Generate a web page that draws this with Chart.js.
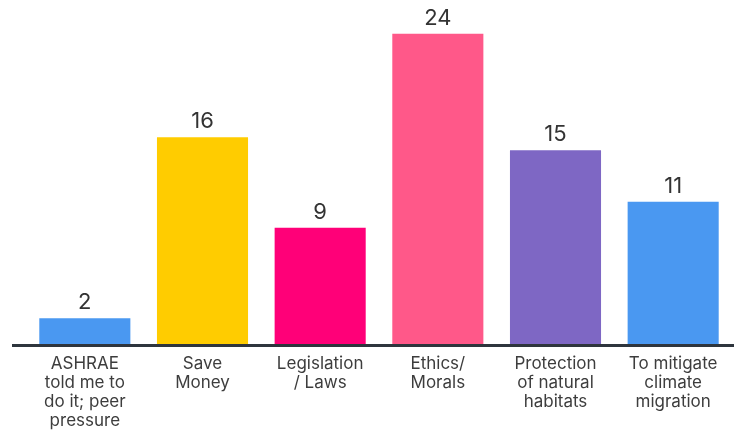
<!DOCTYPE html>
<html>
<head>
<meta charset="utf-8">
<script src="https://cdn.jsdelivr.net/npm/chart.js@4"></script>
<style>
html,body{margin:0;padding:0;background:#fff;}
#wrap{width:734px;height:430px;position:relative;}
</style>
</head>
<body>
<div id="wrap"><canvas id="c" width="734" height="430"></canvas></div>
<script>
const categories = [
  ["ASHRAE", "told me to", "do it; peer", "pressure"],
  ["Save", "Money"],
  ["Legislation", "/ Laws"],
  ["Ethics/", "Morals"],
  ["Protection", "of natural", "habitats"],
  ["To mitigate", "climate", "migration"]
];
const counts = [2, 16, 9, 24, 15, 11];
const barColors = ["#4A98F1", "#FFCC00", "#FF0078", "#FF5889", "#7E67C4", "#4A98F1"];

const FONT = "Inter, 'Open Sans', sans-serif";

const axisLine = {
  id: 'axisLine',
  afterDatasetsDraw(chart) {
    const ctx = chart.ctx;
    const y = chart.scales.y.getPixelForValue(0);
    ctx.save();
    ctx.strokeStyle = '#2E353D';
    ctx.lineWidth = 3;
    ctx.beginPath();
    ctx.moveTo(12, y + 1.5);
    ctx.lineTo(chart.width, y + 1.5);
    ctx.stroke();
    ctx.restore();
  }
};

const valueLabels = {
  id: 'valueLabels',
  afterDatasetsDraw(chart) {
    const ctx = chart.ctx;
    const meta = chart.getDatasetMeta(0);
    ctx.save();
    ctx.fillStyle = '#333333';
    ctx.font = '400 22px ' + FONT;
    ctx.textAlign = 'center';
    ctx.textBaseline = 'alphabetic';
    meta.data.forEach((bar, i) => {
      ctx.fillText(String(counts[i]), bar.x, bar.y - 9);
    });
    ctx.restore();
  }
};

new Chart(document.getElementById('c'), {
  type: 'bar',
  data: {
    labels: categories,
    datasets: [{
      data: counts,
      backgroundColor: barColors,
      borderWidth: 0,
      barPercentage: 0.86,
      categoryPercentage: 0.9
    }]
  },
  options: {
    responsive: false,
    animation: false,
    devicePixelRatio: 1,
    layout: { padding: { left: 26, right: 2, top: 8, bottom: 0 } },
    plugins: { legend: { display: false }, tooltip: { enabled: false } },
    scales: {
      x: {
        offset: true,
        grid: { display: false, drawTicks: false },
        border: { display: false },
        afterFit(scale) { scale.height -= 10; },
        ticks: {
          autoSkip: false,
          maxRotation: 0,
          minRotation: 0,
          padding: 10,
          color: '#3d3d3d',
          font: { family: FONT, size: 17, lineHeight: '19px' }
        }
      },
      y: {
        display: false,
        min: 0,
        max: 26
      }
    }
  },
  plugins: [axisLine, valueLabels]
});
</script>
</body>
</html>
